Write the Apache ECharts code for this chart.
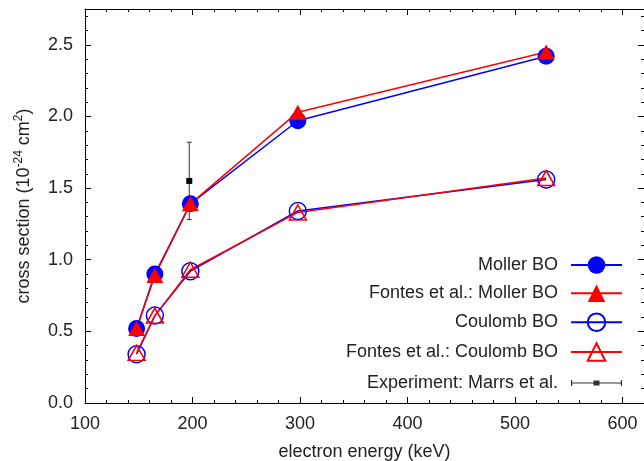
<!DOCTYPE html>
<html>
<head>
<meta charset="utf-8">
<script src="https://cdn.jsdelivr.net/npm/echarts@6/dist/echarts.min.js"></script>
<style>
  html, body { margin: 0; padding: 0; background: #fff; }
  .chart { width: 644px; height: 461px; }
</style>
</head>
<body>
<div class="chart"></div>
<script>
// data
var energy = [148, 165, 198, 298, 529];
var mollerBO = [0.52, 0.90, 1.39, 1.97, 2.42];
var fontesMoller = [0.52, 0.89, 1.39, 2.03, 2.45];
var coulombBO = [0.34, 0.61, 0.92, 1.34, 1.56];
var fontesCoulomb = [0.35, 0.61, 0.93, 1.33, 1.57];

var expEnergy = [197];
var expValue = [1.55];
var expError = [0.27];

var seriesNames = [
  'Moller BO',
  'Fontes et al.: Moller BO',
  'Coulomb BO',
  'Fontes et al.: Coulomb BO',
  'Experiment: Marrs et al.'
];

var font = 'Liberation Sans, Arial, Helvetica, sans-serif';
var textColor = '#222';

function pairs(xs, ys) {
  return xs.map(function (x, i) { return [x, ys[i]]; });
}

var chartContainer = document.getElementsByClassName('chart')[0];
var chart = echarts.init(chartContainer);

// one axis for the labelled major ticks, a second one just for the minor ticks
function xAxisOf(pos, major) {
  return {
    type: 'value', position: pos, min: 100, max: 620,
    interval: major ? 100 : 20,
    axisLine: { show: major, onZero: false, lineStyle: { color: '#000', width: 1 } },
    axisTick: { show: true, inside: true, length: major ? 6 : 3, lineStyle: { color: '#000' } },
    axisLabel: {
      show: major && pos === 'bottom', margin: 12,
      color: textColor, fontSize: 18, fontFamily: font,
      formatter: function (v) { return v % 100 === 0 && v <= 600 ? String(v) : ''; }
    },
    splitLine: { show: false },
    name: major && pos === 'bottom' ? 'electron energy (keV)' : '',
    nameLocation: 'middle', nameGap: 40,
    nameTextStyle: { color: textColor, fontSize: 18, fontFamily: font }
  };
}

function yAxisOf(pos, major) {
  return {
    type: 'value', position: pos, min: 0, max: 2.75,
    interval: major ? 0.5 : 0.1,
    axisLine: { show: major, onZero: false, lineStyle: { color: '#000', width: 1 } },
    axisTick: { show: true, inside: true, length: major ? 6 : 3, lineStyle: { color: '#000' } },
    axisLabel: {
      show: major && pos === 'left', margin: 12,
      color: textColor, fontSize: 18, fontFamily: font,
      formatter: function (v) { return v <= 2.5 ? v.toFixed(1) : ''; }
    },
    splitLine: { show: false },
    name: major && pos === 'left' ? '{a|cross section (10}{s|-24}{a| cm}{s|2}{a|)}' : '',
    nameLocation: 'middle', nameGap: 52,
    nameTextStyle: {
      color: textColor, fontSize: 18, fontFamily: font,
      rich: {
        a: { fontSize: 18, fontFamily: font, color: textColor, lineHeight: 20, verticalAlign: 'bottom' },
        s: { fontSize: 12, fontFamily: font, color: textColor, lineHeight: 20, verticalAlign: 'top' }
      }
    }
  };
}

function lineSeries(name, data, color, symbol, filled) {
  return {
    name: name, type: 'line', data: data,
    xAxisIndex: 0, yAxisIndex: 0,
    symbol: symbol, symbolSize: symbol === 'triangle' ? [17, 15] : 17,
    lineStyle: { color: color, width: 1.5 },
    itemStyle: filled
      ? { color: color }
      : { color: 'transparent', borderColor: color, borderWidth: 1.5 },
    emphasis: { disabled: true }
  };
}

// error bar icon drawn in a 51x22 box (corner dots keep the box size)
var errIcon = 'path://M0,0L0.1,0L0.1,0.1Z M50.9,21.9L51,21.9L51,22L50.9,22Z ' +
  'M0,10.4L51,10.4L51,11.6L0,11.6Z M0,8L1.2,8L1.2,14L0,14Z M49.8,8L51,8L51,14L49.8,14Z ' +
  'M22.5,8.5L28.5,8.5L28.5,13.5L22.5,13.5Z';

var option = {
  animation: false,
  grid: { left: 85, right: 0, top: 9, bottom: 58, containLabel: false, outerBoundsMode: 'none' },
  xAxis: [xAxisOf('bottom', true), xAxisOf('bottom', false), xAxisOf('top', true), xAxisOf('top', false)],
  yAxis: [yAxisOf('left', true), yAxisOf('left', false), yAxisOf('right', true), yAxisOf('right', false)],
  legend: {
    orient: 'vertical', right: 16, top: 251,
    align: 'right', itemWidth: 51, itemHeight: 22, itemGap: 10.2,
    textStyle: { color: textColor, fontSize: 18, fontFamily: font, padding: [0, 8, 0, 0] },
    data: [
      { name: seriesNames[0] },
      { name: seriesNames[1] },
      { name: seriesNames[2] },
      { name: seriesNames[3] },
      { name: seriesNames[4], icon: errIcon }
    ],
    selectedMode: false
  },
  series: [
    lineSeries(seriesNames[0], pairs(energy, mollerBO), '#0000ff', 'circle', true),
    lineSeries(seriesNames[1], pairs(energy, fontesMoller), '#ff0000', 'triangle', true),
    lineSeries(seriesNames[2], pairs(energy, coulombBO), '#0000ff', 'circle', false),
    lineSeries(seriesNames[3], pairs(energy, fontesCoulomb), '#ff0000', 'triangle', false),
    {
      name: seriesNames[4], type: 'custom',
      xAxisIndex: 0, yAxisIndex: 0,
      itemStyle: { color: '#333' },
      data: expEnergy.map(function (x, i) {
        return [x, expValue[i], expValue[i] - expError[i], expValue[i] + expError[i]];
      }),
      renderItem: function (params, api) {
        var p = api.coord([api.value(0), api.value(1)]);
        var lo = api.coord([api.value(0), api.value(2)]);
        var hi = api.coord([api.value(0), api.value(3)]);
        var st = { stroke: '#333', lineWidth: 1 };
        return {
          type: 'group',
          children: [
            { type: 'line', shape: { x1: lo[0], y1: lo[1], x2: hi[0], y2: hi[1] }, style: st },
            { type: 'line', shape: { x1: lo[0] - 2.5, y1: lo[1], x2: lo[0] + 2.5, y2: lo[1] }, style: st },
            { type: 'line', shape: { x1: hi[0] - 2.5, y1: hi[1], x2: hi[0] + 2.5, y2: hi[1] }, style: st },
            { type: 'rect', shape: { x: p[0] - 3, y: p[1] - 3, width: 6, height: 6 }, style: { fill: '#000' } }
          ]
        };
      }
    }
  ]
};

chart.setOption(option);
</script>
</body>
</html>
